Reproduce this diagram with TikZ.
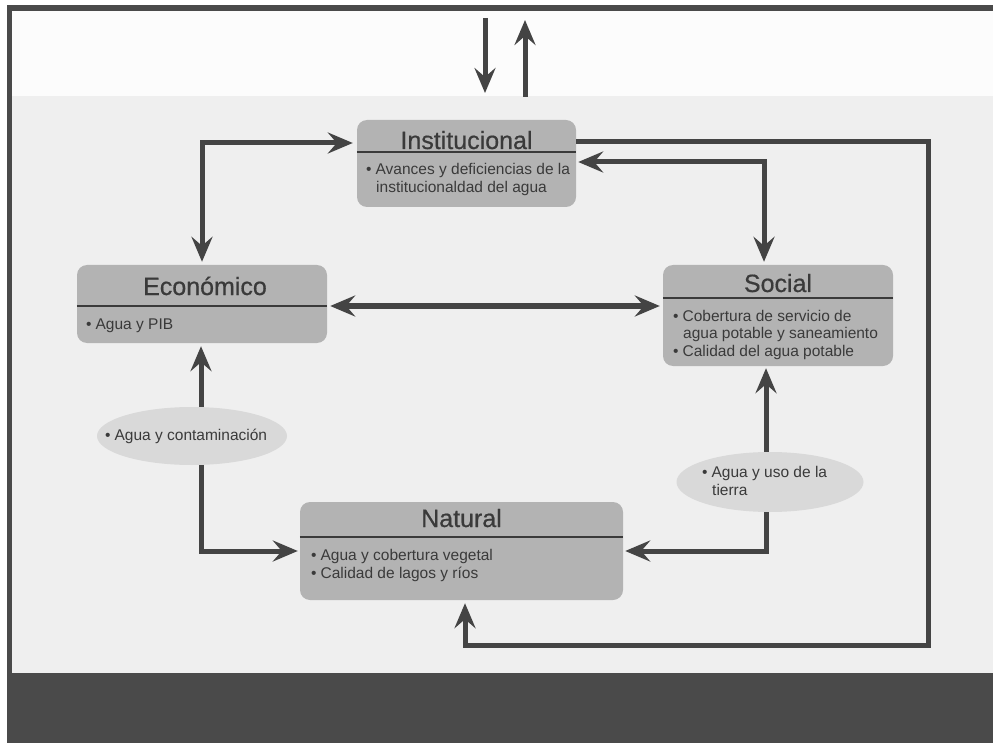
\documentclass[tikz,border=0pt]{standalone}
\usepackage{fontspec}
\setmainfont{Liberation Sans}
\newfontfamily\ttlfont[FakeBold=0.6]{Liberation Sans}
\usetikzlibrary{arrows.meta,shapes.geometric}
\definecolor{bgc}{HTML}{EFEFEF}
\definecolor{topc}{HTML}{FCFCFC}
\definecolor{darkc}{HTML}{4A4A4A}
\definecolor{linec}{HTML}{444444}
\definecolor{boxc}{HTML}{B3B3B3}
\definecolor{ellc}{HTML}{D9D9D9}
\definecolor{txtc}{HTML}{3A3A3A}
\begin{document}
\begin{tikzpicture}[x=1pt,y=-1pt,
  box/.style={fill=boxc, rounded corners=10pt, inner sep=0pt},
  ell/.style={ellipse, fill=ellc, inner sep=0pt},
  divider/.style={draw=txtc, line width=1.6pt},
  titletxt/.style={anchor=base, inner sep=0pt, text=txtc, font=\ttlfont\fontsize{25}{30}\selectfont},
  bodytxt/.style={anchor=base west, inner sep=0pt, text=txtc, font=\fontsize{15.5}{18}\selectfont},
  tip/.tip={Stealth[length=25pt,width=21pt,inset=9pt]},
  conn/.style={draw=linec, line width=5pt},
  one/.style={conn, -tip},
  two/.style={conn, tip-tip},
]
\useasboundingbox (0,0) rectangle (993,743);
% frame and background
\fill[white] (0,0) rectangle (993,743);
\fill[topc] (10,11) rectangle (993,96);
\fill[bgc] (10,96) rectangle (993,673);
\fill[darkc] (7,673) rectangle (993,743);
\fill[darkc] (7,5) rectangle (993,11);
\fill[darkc] (7,5) rectangle (12,743);

% boxes
\node[box, minimum width=219pt, minimum height=87pt] (inst) at (466.5,163.5) {};
\node[box, minimum width=250pt, minimum height=78pt] (eco) at (202,304) {};
\node[box, minimum width=230pt, minimum height=101pt] (soc) at (778,315.5) {};
\node[box, minimum width=323pt, minimum height=98pt] (nat) at (461.5,551) {};

% dividers
\draw[divider] (inst.west |- 0,152) -- (inst.east |- 0,152);
\draw[divider] (eco.west |- 0,306) -- (eco.east |- 0,306);
\draw[divider] (soc.west |- 0,298) -- (soc.east |- 0,298);
\draw[divider] (nat.west |- 0,537) -- (nat.east |- 0,537);

% titles
\node[titletxt] (instT) at (466.5,149) {Institucional};
\node[titletxt] (ecoT) at (205,295) {Económico};
\node[titletxt] (socT) at (778,292) {Social};
\node[titletxt] (natT) at (461.5,527) {Natural};

% body texts
\node[bodytxt] (instB1) at (366,175) {•\hspace{4pt}Avances y deficiencias de la};
\node[bodytxt] (instB2) at (376,193) {institucionaldad del agua};
\node[bodytxt] (ecoB1) at (86,329) {•\hspace{4pt}Agua y PIB};
\node[bodytxt] (socB1) at (673,321) {•\hspace{4pt}Cobertura de servicio de};
\node[bodytxt] (socB2) at (683,338.5) {agua potable y saneamiento};
\node[bodytxt] (socB3) at (673,356) {•\hspace{4pt}Calidad del agua potable};
\node[bodytxt] (natB1) at (311,560) {•\hspace{4pt}Agua y cobertura vegetal};
\node[bodytxt] (natB2) at (311,578) {•\hspace{4pt}Calidad de lagos y ríos};

% ellipses
\node[ell, minimum width=190pt, minimum height=58pt] (e1) at (192,436) {};
\node[bodytxt] (e1T) at (105,440) {•\hspace{4pt}Agua y contaminación};
\node[ell, minimum width=187pt, minimum height=60pt] (e2) at (770,482) {};
\node[bodytxt] (e2T1) at (702,477) {•\hspace{4pt}Agua y uso de la};
\node[bodytxt] (e2T2) at (712,495) {tierra};

% top arrows
\coordinate (ta1) at (485,18);
\coordinate (ta2) at (485,93);
\coordinate (tb1) at (525,97);
\coordinate (tb2) at (525,20);
\draw[one] (ta1) -- (ta2);
\draw[one] (tb1) -- (tb2);

% connectors
\draw[two, shorten <=3pt, shorten >=4pt] (eco.north) |- ([yshift=20.5pt]inst.west);
\draw[two, shorten <=2pt, shorten >=3pt] ([yshift=1.5pt]inst.east) -| ([xshift=-14pt]soc.north);
\coordinate (c1) at (928,645);
\draw[one, shorten >=3pt] ([yshift=22pt]inst.east) -| (c1) -| ([xshift=3.5pt]nat.south);
\coordinate (eL) at ([yshift=-2pt]eco.east);
\draw[two, shorten <=3pt, shorten >=3pt] (eL) -- (eL -| soc.west);
\coordinate (v1) at (201,0);
\draw[one, shorten >=3pt] (e1.north -| v1) -- (eco.south -| v1);
\draw[one, shorten >=2pt] (e1.south -| v1) |- (nat.west);
\coordinate (v2) at (766,0);
\draw[one, shorten >=2pt] (e2.north -| v2) -- (soc.south -| v2);
\draw[one, shorten >=2pt] (e2.south -| v2) |- (nat.east);
\end{tikzpicture}
\end{document}
